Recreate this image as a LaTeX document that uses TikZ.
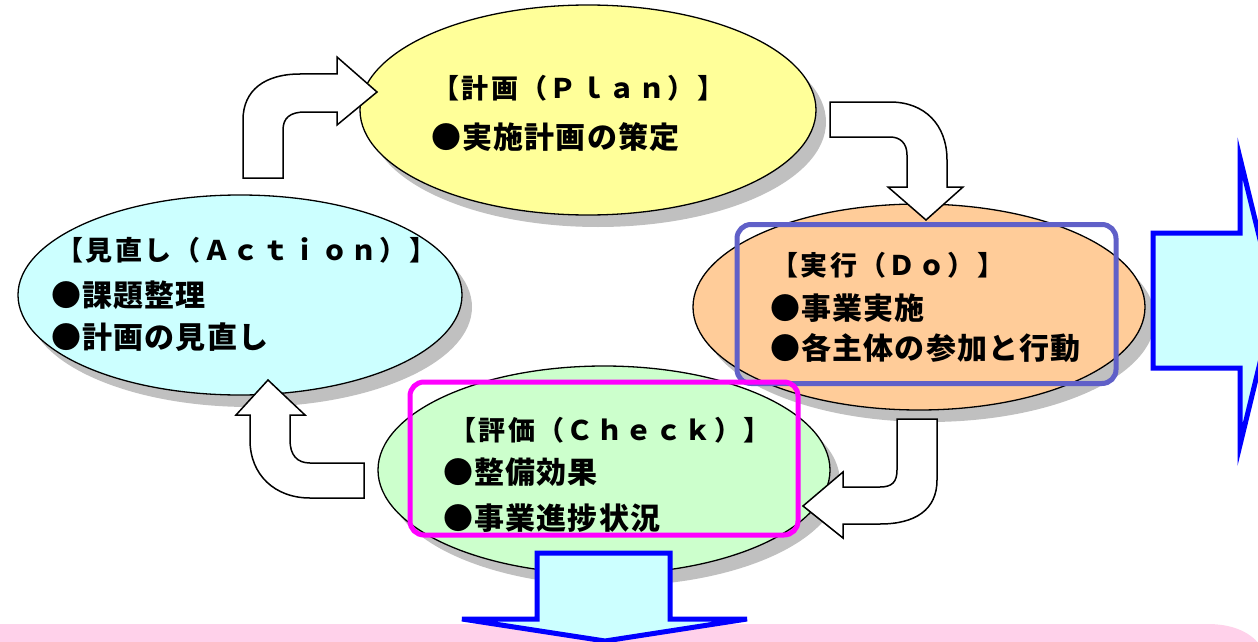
\documentclass[tikz,border=0pt]{standalone}
\usepackage{fontspec}
\setmainfont{Noto Sans CJK JP}
\usetikzlibrary{shapes.geometric,shadows}
\definecolor{planY}{RGB}{255,255,153}
\definecolor{actC}{RGB}{204,255,255}
\definecolor{doO}{RGB}{255,204,153}
\definecolor{chkG}{RGB}{204,255,204}
\definecolor{shd}{RGB}{192,192,192}
\definecolor{doBlue}{RGB}{96,96,200}
\definecolor{chkMag}{RGB}{255,0,255}
\definecolor{pinkB}{RGB}{255,209,234}
\definecolor{arrBlue}{RGB}{0,0,255}
\tikzset{
  ell/.style={ellipse, draw=black, line width=1.3pt, inner sep=0pt,
    drop shadow={shadow xshift=10pt, shadow yshift=-12pt, fill=shd, opacity=1}},
  ttl/.style={anchor=west, inner sep=0pt, font=\bfseries\fontsize{27}{27}\selectfont\addfontfeatures{LetterSpace=9}},
  itm/.style={anchor=west, inner sep=0pt, font=\bfseries\fontsize{30}{30}\selectfont\addfontfeatures{LetterSpace=4}},
  warr/.style={draw=black, fill=white, line width=1.5pt, line join=miter},
  barr/.style={draw=arrBlue, fill=actC, line width=5pt, line join=miter},
  hlbox/.style={rectangle, draw, rounded corners=14pt, line width=5pt, inner sep=0pt}
}
\begin{document}
\begin{tikzpicture}[x=1pt,y=-1pt]
\useasboundingbox (0,0) rectangle (1258,642);
\clip (0,0) rectangle (1258,642);
% pink band
\fill[pinkB] (-10,660) -- (-10,624) -- (1208,624) .. controls (1232,624) and (1252,632) .. (1262,648) -- (1262,660) -- cycle;
% ellipses
\node[ell, fill=planY, minimum width=456pt, minimum height=210pt] (plan) at (588,110) {};
\node[ell, fill=actC, minimum width=444pt, minimum height=200pt] (act) at (240,295) {};
\node[ell, fill=doO, minimum width=452pt, minimum height=206pt] (do) at (919,307) {};
\node[ell, fill=chkG, minimum width=452pt, minimum height=208pt] (chk) at (604,470) {};
% texts
\node[ttl] (planT) at (432,88) {【計画（Ｐｌａｎ）】};
\node[itm] (planA) at (431,137) {●実施計画の策定};
\node[ttl] (actT) at (56,250) {【見直し（Ａｃｔｉｏｎ）】};
\node[itm] (actA) at (51,295) {●課題整理};
\node[itm] (actB) at (51,337) {●計画の見直し};
\node[ttl] (doT) at (771,265) {【実行（Ｄｏ）】};
\node[itm] (doA) at (770,308) {●事業実施};
\node[itm] (doB) at (770,348) {●各主体の参加と行動};
\node[ttl] (chkT) at (449,430) {【評価（Ｃｈｅｃｋ）】};
\node[itm] (chkA) at (443,472) {●整備効果};
\node[itm] (chkB) at (443,518) {●事業進捗状況};
% highlight boxes
\node[hlbox, draw=doBlue, minimum width=379pt, minimum height=159pt] (dobox) at (926.5,304) {};
\node[hlbox, draw=chkMag, minimum width=388pt, minimum height=153pt] (chkbox) at (604,458.5) {};
% curved white arrows
\draw[warr] (243,178) -- (243,120) .. controls (243,90) and (265,74) .. (300,74) -- (337,74) -- (337,57) -- (377,92) -- (337,125) -- (337,112) -- (305,112) .. controls (290,112) and (283,118) .. (283,130) -- (283,178) -- cycle;
\draw[warr] (830,102) -- (890,102) .. controls (925,102) and (947,125) .. (947,160) -- (947,187) -- (963,187) -- (926,220) -- (888,187) -- (907,187) -- (907,155) .. controls (907,143) and (900,137) .. (890,137) -- (830,137) -- cycle;
\draw[warr] (897,419) -- (937,419) -- (937,480) .. controls (937,510) and (915,524) .. (880,524) -- (843,524) -- (843,538) -- (803,506) -- (843,472) -- (843,487) -- (880,487) .. controls (892,487) and (897,482) .. (897,470) -- cycle;
\draw[warr] (364,498) -- (310,498) .. controls (275,498) and (250,475) .. (250,440) -- (250,415) -- (236,415) -- (268,380) -- (305,415) -- (290,415) -- (290,440) .. controls (290,455) and (297,463) .. (310,463) -- (364,463) -- cycle;
% blue block arrows
\draw[barr] (1153,233) -- (1240,233) -- (1240,158) -- (1275,301) -- (1240,445) -- (1240,368) -- (1153,368) -- cycle;
\draw[barr] (537,553) -- (670,553) -- (670,619) -- (747,619) -- (605,641) -- (462,619) -- (537,619) -- cycle;
\end{tikzpicture}
\end{document}
